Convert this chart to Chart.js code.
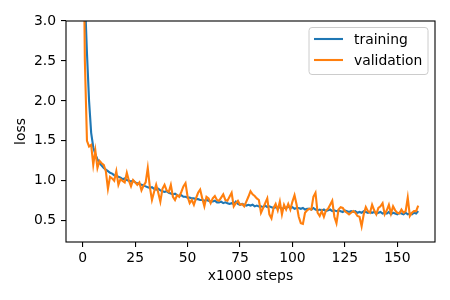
<!DOCTYPE html>
<html>
<head>
<meta charset="utf-8">
<script src="https://cdn.jsdelivr.net/npm/chart.js@4"></script>
<style>
  html, body { margin: 0; padding: 0; background: #fff; }
  #wrap { width: 450px; height: 300px; }
</style>
</head>
<body>
<div id="wrap"><canvas id="lossChart" width="450" height="300"></canvas></div>
<script>
// loss per 1000 steps
let training = [
  6.0, 3.3, 2.6, 2.0, 1.6, 1.42, 1.33, 1.27, 1.22, 1.19,
  1.16, 1.14, 1.12, 1.10, 1.09, 1.07, 1.06, 1.05, 1.04, 1.02,
  1.03, 1.01, 1.00, 0.99, 1.00, 0.98, 0.97, 0.96, 0.95, 0.94,
  0.93, 0.92, 0.91, 0.92, 0.90, 0.89, 0.90, 0.88, 0.87, 0.86,
  0.87, 0.85, 0.84, 0.83, 0.84, 0.82, 0.81, 0.82, 0.80, 0.80,
  0.79, 0.79, 0.78, 0.78, 0.77, 0.77, 0.76, 0.76, 0.75, 0.76,
  0.75, 0.74, 0.74, 0.75, 0.73, 0.73, 0.74, 0.72, 0.73, 0.72,
  0.71, 0.72, 0.71, 0.74, 0.71, 0.70, 0.71, 0.70, 0.69, 0.70,
  0.69, 0.70, 0.68, 0.69, 0.68, 0.68, 0.67, 0.69, 0.67, 0.68,
  0.67, 0.66, 0.67, 0.66, 0.67, 0.65, 0.66, 0.66, 0.68, 0.66,
  0.67, 0.65, 0.66, 0.66, 0.65, 0.66, 0.64, 0.65, 0.65, 0.64,
  0.66, 0.64, 0.63, 0.64, 0.63, 0.64, 0.62, 0.63, 0.64, 0.62,
  0.63, 0.62, 0.63, 0.62, 0.61, 0.63, 0.62, 0.61, 0.62, 0.61,
  0.62, 0.60, 0.61, 0.60, 0.62, 0.61, 0.60, 0.61, 0.60, 0.61,
  0.59, 0.60, 0.61, 0.59, 0.60, 0.59, 0.61, 0.58, 0.60, 0.59,
  0.58, 0.60, 0.59, 0.58, 0.60, 0.58, 0.59, 0.58, 0.60, 0.59,
  0.62
];
let validation = [
  5.0, 2.5, 1.5, 1.43, 1.45, 1.2, 1.38, 1.16, 1.25, 1.22,
  1.2, 1.12, 0.9, 1.05, 1.03, 1.0, 1.12, 0.95, 1.02, 1.0,
  0.98, 1.1, 1.0, 0.93, 1.01, 0.98, 0.95, 0.98, 0.88, 0.94,
  0.98, 1.16, 0.92, 0.76, 0.86, 0.95, 0.85, 0.74, 0.9, 0.95,
  0.88, 0.86, 0.95, 0.8, 0.76, 0.82, 0.8, 0.86, 0.93, 0.97,
  0.8, 0.72, 0.76, 0.7, 0.78, 0.85, 0.89, 0.78, 0.68, 0.8,
  0.78, 0.72, 0.78, 0.81, 0.76, 0.75, 0.79, 0.83, 0.76, 0.75,
  0.8, 0.85, 0.68, 0.72, 0.75, 0.7, 0.71, 0.68, 0.74, 0.8,
  0.87, 0.83, 0.81, 0.78, 0.76, 0.6, 0.66, 0.72, 0.78, 0.58,
  0.53, 0.66, 0.71, 0.63, 0.74, 0.58, 0.7, 0.64, 0.71, 0.64,
  0.74, 0.82, 0.7, 0.55, 0.47, 0.46, 0.6, 0.63, 0.65, 0.64,
  0.8, 0.85, 0.6, 0.56, 0.62, 0.55, 0.63, 0.65, 0.7, 0.75,
  0.55, 0.47, 0.64, 0.67, 0.66, 0.62, 0.6, 0.58, 0.6, 0.62,
  0.6, 0.56, 0.55, 0.43, 0.58, 0.67, 0.62, 0.6, 0.7, 0.63,
  0.58, 0.66, 0.68, 0.72, 0.58, 0.63, 0.7, 0.59, 0.68, 0.63,
  0.6, 0.59, 0.64, 0.6, 0.62, 0.79, 0.56, 0.6, 0.62, 0.62,
  0.69
];
let steps = training.map((_, i) => i); // x1000 steps
let xTicks = [0, 25, 50, 75, 100, 125, 150];
let yTicks = [0.5, 1.0, 1.5, 2.0, 2.5, 3.0];

const FONT = { family: "'DejaVu Sans', sans-serif", size: 13.9 };
const BLUE = "#1f77b4";
const ORANGE = "#ff7f0e";

// **Frame round the plot, like matplotlib spines**
const framePlugin = {
  id: "frame",
  afterDraw(chart) {
    let a = chart.chartArea, ctx = chart.ctx;
    ctx.save();
    ctx.strokeStyle = "#000";
    ctx.lineWidth = 1.1;
    ctx.strokeRect(a.left, a.top, a.right - a.left, a.bottom - a.top);
    ctx.restore();
  }
};

// **Legend box in the upper right corner**
const legendBox = {
  id: "legendBox",
  afterDraw(chart) {
    let a = chart.chartArea, ctx = chart.ctx;
    let w = 119, h = 47;
    let x = a.right - 7 - w, y = a.top + 6.5;
    ctx.save();
    ctx.beginPath();
    ctx.roundRect(x, y, w, h, 3);
    ctx.fillStyle = "rgba(255,255,255,0.8)";
    ctx.fill();
    ctx.strokeStyle = "#cccccc";
    ctx.lineWidth = 1;
    ctx.stroke();
    ctx.font = FONT.size + "px " + FONT.family;
    ctx.textBaseline = "middle";
    chart.data.datasets.forEach((ds, i) => {
      let ly = y + 11.5 + i * 21;
      ctx.beginPath();
      ctx.moveTo(x + 5, ly);
      ctx.lineTo(x + 34, ly);
      ctx.strokeStyle = ds.borderColor;
      ctx.lineWidth = 2.1;
      ctx.stroke();
      ctx.fillStyle = "#000";
      ctx.fillText(ds.label, x + 45, ly + 1);
    });
    ctx.restore();
  }
};

function toPoints(values) {
  return values.map((v, i) => ({ x: steps[i], y: v }));
}

new Chart(document.getElementById("lossChart"), {
  type: "line",
  data: {
    datasets: [
      // order: validation (lower order) is drawn on top, as in matplotlib
      { label: "training", data: toPoints(training), borderColor: BLUE, borderWidth: 2.1, pointRadius: 0, tension: 0, order: 2 },
      { label: "validation", data: toPoints(validation), borderColor: ORANGE, borderWidth: 2.1, pointRadius: 0, tension: 0, order: 1 }
    ]
  },
  options: {
    responsive: false,
    animation: false,
    layout: { padding: { left: 0, right: 15, top: 21, bottom: 0 } },
    plugins: { legend: { display: false }, tooltip: { enabled: false } },
    scales: {
      x: {
        type: "linear",
        min: -8,
        max: 168,
        afterBuildTicks: s => { s.ticks = xTicks.map(v => ({ value: v })); },
        afterFit: s => { s.height = 58; },
        grid: { drawOnChartArea: false, drawTicks: true, tickLength: 5, color: "#000", lineWidth: 1.1 },
        border: { display: false },
        ticks: { font: FONT, color: "#000", padding: 3, maxRotation: 0 },
        title: { display: true, text: "x1000 steps", font: FONT, color: "#000", padding: { top: 0, bottom: 15 } }
      },
      y: {
        min: 0.234,
        max: 3.0,
        afterBuildTicks: s => { s.ticks = yTicks.map(v => ({ value: v })); },
        afterFit: s => { s.width = 66; },
        grid: { drawOnChartArea: false, drawTicks: true, tickLength: 5, color: "#000", lineWidth: 1.1 },
        border: { display: false },
        ticks: { font: FONT, color: "#000", padding: 5, callback: v => v.toFixed(1) },
        title: { display: true, text: "loss", font: FONT, color: "#000", padding: { top: 12.7, bottom: 0 } }
      }
    }
  },
  plugins: [framePlugin, legendBox]
});
</script>
</body>
</html>
